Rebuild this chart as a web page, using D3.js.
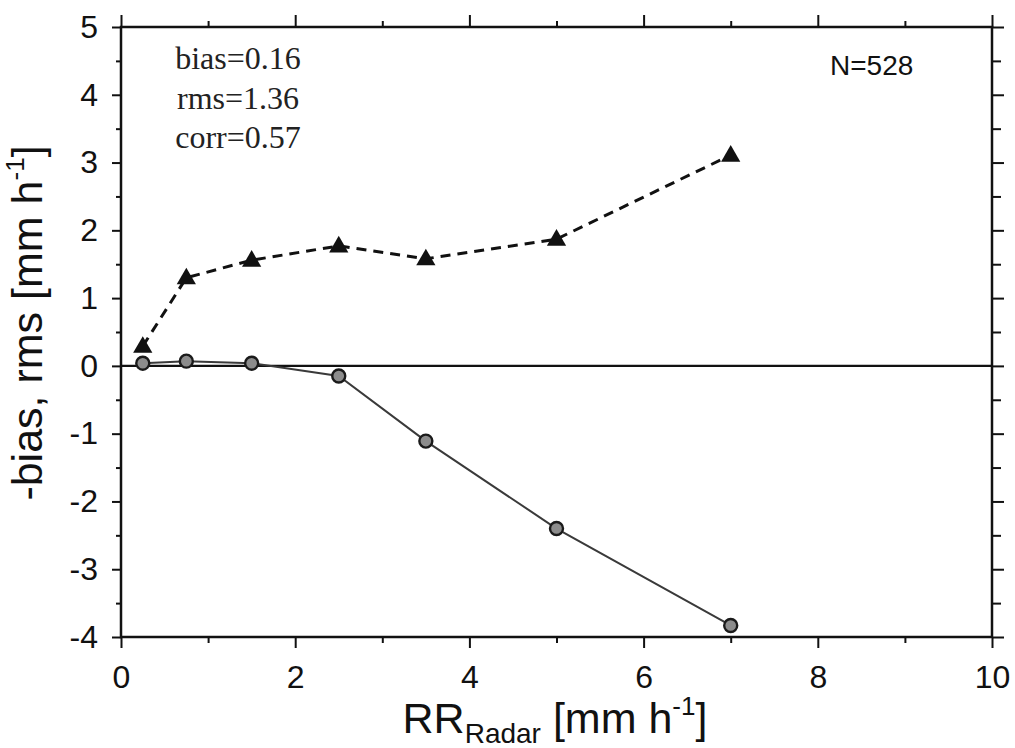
<!DOCTYPE html>
<html>
<head>
<meta charset="utf-8">
<script src="https://cdn.jsdelivr.net/npm/d3@7"></script>
<style>
  html, body { margin: 0; padding: 0; background: #fff; }
  svg { display: block; }
</style>
</head>
<body>
<svg id="chart" width="1015" height="748"></svg>
<script>
// ---- data ----
const rrBins = [0.25, 0.75, 1.5, 2.5, 3.5, 5, 7];
const rmsValues = [0.29, 1.30, 1.56, 1.77, 1.58, 1.87, 3.11];
const negBiasValues = [0.04, 0.07, 0.04, -0.15, -1.11, -2.40, -3.83];
const xMajorTicks = [0, 2, 4, 6, 8, 10];
const xMinorTicks = [1, 3, 5, 7, 9];
const yMajorTicks = [-4, -3, -2, -1, 0, 1, 2, 3, 4, 5];
const yMinorTicks = [-3.5, -2.5, -1.5, -0.5, 0.5, 1.5, 2.5, 3.5, 4.5];
const statsLines = ["bias=0.16", "rms=1.36", "corr=0.57"];
const countLabel = "N=528";

const svg = d3.select("#chart");
const sans = "'Liberation Sans', Arial, Helvetica, sans-serif";
const serif = "'Liberation Serif', 'Times New Roman', Times, serif";

const x = d3.scaleLinear().domain([0, 10]).range([121, 992]);
const y = d3.scaleLinear().domain([-4, 5]).range([637, 27]);

function styleAxis(g) {
  g.select(".domain").remove();
  g.selectAll(".tick line").attr("stroke", "#111").attr("stroke-width", 2);
  g.selectAll(".tick text").attr("fill", "#111").style("font-family", sans).style("font-size", "32px");
}

// bottom axis
svg.append("g").attr("transform", `translate(0,${y(-4)})`)
  .call(d3.axisBottom(x).tickValues(xMajorTicks).tickSize(11).tickPadding(17).tickFormat(d => String(d)))
  .call(styleAxis);
svg.append("g").attr("transform", `translate(0,${y(-4)})`)
  .call(d3.axisBottom(x).tickValues(xMinorTicks).tickSize(6).tickFormat(""))
  .call(styleAxis);
// top axis
svg.append("g").attr("transform", `translate(0,${y(5)})`)
  .call(d3.axisTop(x).tickValues(xMajorTicks).tickSize(12).tickFormat(""))
  .call(styleAxis);
svg.append("g").attr("transform", `translate(0,${y(5)})`)
  .call(d3.axisTop(x).tickValues(xMinorTicks).tickSize(6).tickFormat(""))
  .call(styleAxis);
// left axis
svg.append("g").attr("transform", `translate(${x(0)},0)`)
  .call(d3.axisLeft(y).tickValues(yMajorTicks).tickSize(9).tickPadding(14).tickFormat(d => String(d)))
  .call(styleAxis);
svg.append("g").attr("transform", `translate(${x(0)},0)`)
  .call(d3.axisLeft(y).tickValues(yMinorTicks).tickSize(5).tickFormat(""))
  .call(styleAxis);
// right axis
svg.append("g").attr("transform", `translate(${x(10)},0)`)
  .call(d3.axisRight(y).tickValues(yMajorTicks).tickSize(12).tickFormat(""))
  .call(styleAxis);
svg.append("g").attr("transform", `translate(${x(10)},0)`)
  .call(d3.axisRight(y).tickValues(yMinorTicks).tickSize(9).tickFormat(""))
  .call(styleAxis);

// frame
svg.append("rect")
  .attr("x", x(0)).attr("y", y(5))
  .attr("width", x(10) - x(0)).attr("height", y(-4) - y(5))
  .attr("fill", "none").attr("stroke", "#111").attr("stroke-width", 2.5);

// zero line
svg.append("line")
  .attr("x1", x(0)).attr("x2", x(10)).attr("y1", y(0)).attr("y2", y(0))
  .attr("stroke", "#111").attr("stroke-width", 2.4);

const biasData = rrBins.map((r, i) => [r, negBiasValues[i]]);
const rmsData = rrBins.map((r, i) => [r, rmsValues[i]]);
const line = d3.line().x(d => x(d[0])).y(d => y(d[1]));

// -bias line (solid)
svg.append("path").datum(biasData).attr("d", line)
  .attr("fill", "none").attr("stroke", "#3a3a3a").attr("stroke-width", 2);

// rms line (dashed)
svg.append("path").datum(rmsData).attr("d", line)
  .attr("fill", "none").attr("stroke", "#111").attr("stroke-width", 3)
  .attr("stroke-dasharray", "10,7");

svg.append("g").selectAll("circle").data(biasData).join("circle")
  .attr("cx", d => x(d[0])).attr("cy", d => y(d[1])).attr("r", 6.5)
  .attr("fill", "#8c8c8c").attr("stroke", "#1a1a1a").attr("stroke-width", 2.4);

const tri = d3.symbol().type(d3.symbolTriangle).size(160);
svg.append("g").selectAll("path").data(rmsData).join("path")
  .attr("d", tri)
  .attr("transform", d => `translate(${x(d[0])},${y(d[1]) + 1})`)
  .attr("fill", "#111");

// stats text (serif)
svg.append("g").selectAll("text").data(statsLines).join("text")
  .attr("x", 238).attr("y", (d, i) => 69 + i * 39.5)
  .attr("text-anchor", "middle")
  .style("font-family", serif).style("font-size", "32px").attr("fill", "#222")
  .text(d => d);

// N label
svg.append("text").attr("x", 830).attr("y", 75)
  .style("font-family", sans).style("font-size", "28px").attr("fill", "#111")
  .text(countLabel);

// x axis title
const xt = svg.append("text").attr("x", 555).attr("y", 733)
  .attr("text-anchor", "middle")
  .style("font-family", sans).style("font-size", "43px").attr("fill", "#111");
xt.append("tspan").text("RR");
xt.append("tspan").attr("dy", 10).style("font-size", "28px").text("Radar");
xt.append("tspan").attr("dy", -10).text(" [mm h");
xt.append("tspan").attr("dy", -18).style("font-size", "26px").text("-1");
xt.append("tspan").attr("dy", 18).text("]");

// y axis title
const yt = svg.append("text")
  .attr("transform", "translate(42,323) rotate(-90)")
  .attr("text-anchor", "middle")
  .style("font-family", sans).style("font-size", "43px").attr("fill", "#111");
yt.append("tspan").text("-bias, rms [mm h");
yt.append("tspan").attr("dy", -18).style("font-size", "26px").text("-1");
yt.append("tspan").attr("dy", 18).text("]");
</script>
</body>
</html>
